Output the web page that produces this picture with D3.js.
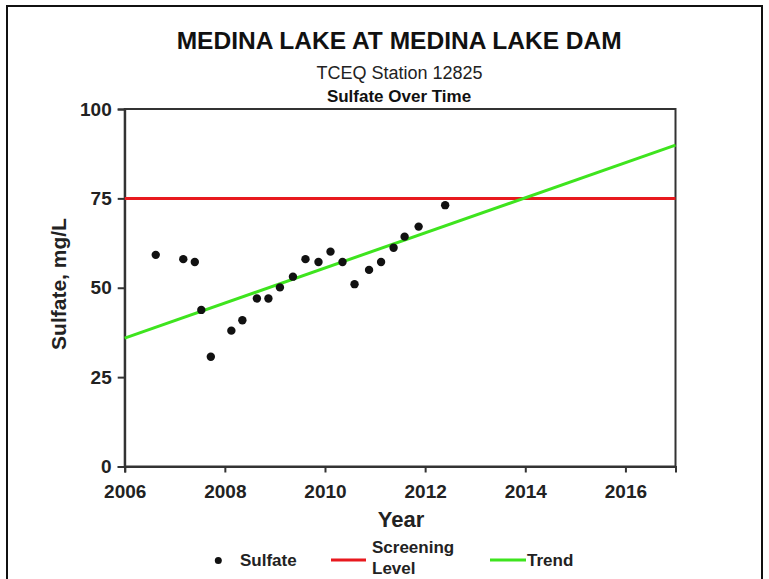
<!DOCTYPE html>
<html><head><meta charset="utf-8">
<script src="https://cdn.jsdelivr.net/npm/d3@7"></script>
<style>body{margin:0;background:#fff}svg{display:block;font-family:"Liberation Sans",Arial,sans-serif}</style>
</head><body>
<svg id="c" width="769" height="579"></svg>
<script>
const years = [2006.62,2007.17,2007.40,2007.53,2007.72,2008.13,2008.35,2008.64,2008.87,2009.10,2009.36,2009.61,2009.87,2010.11,2010.35,2010.59,2010.88,2011.12,2011.37,2011.59,2011.87,2012.40];
const sulfate = [59.2,58.0,57.2,43.8,30.7,38.0,40.9,47.0,47.0,50.1,53.1,58.0,57.2,60.1,57.2,51.0,55.0,57.2,61.2,64.3,67.1,73.1];
const screeningLevel = 75;
const trendYears = [2006,2017];
const trendValues = [35.9,89.9];
const xTicks = [2006,2008,2010,2012,2014,2016];
const yTicks = [0,25,50,75,100];

const svg = d3.select("#c");
svg.append("rect").attr("x",7).attr("y",6).attr("width",755).attr("height",590)
  .attr("fill","none").attr("stroke","#111").attr("stroke-width",2);

const L=124.7,R=675.5,T=109,B=466.5;
const x = d3.scaleLinear().domain([2006,2017]).range([L,R]);
const y = d3.scaleLinear().domain([0,100]).range([B,T]);

// titles
svg.append("text").attr("x",399.2).attr("y",49).attr("text-anchor","middle")
  .attr("font-size",24).attr("font-weight","bold").attr("fill","#111")
  .attr("textLength",445).attr("lengthAdjust","spacingAndGlyphs").text("MEDINA LAKE AT MEDINA LAKE DAM");
svg.append("text").attr("x",399.5).attr("y",79).attr("text-anchor","middle")
  .attr("font-size",18).attr("fill","#222").text("TCEQ Station 12825");
svg.append("text").attr("x",399).attr("y",102).attr("text-anchor","middle")
  .attr("font-size",17).attr("font-weight","bold").attr("fill","#111").text("Sulfate Over Time");

// frame of plot
svg.append("rect").attr("x",L).attr("y",T).attr("width",R-L).attr("height",B-T)
  .attr("fill","none").attr("stroke","#333").attr("stroke-width",2);

// axes
const yAxis = svg.append("g").attr("transform",`translate(${L},0)`)
  .call(d3.axisLeft(y).tickValues(yTicks).tickSize(7).tickPadding(6));
const xAxis = svg.append("g").attr("transform",`translate(0,${B})`)
  .call(d3.axisBottom(x).tickValues(xTicks).tickFormat(d3.format("d")).tickSize(6).tickPadding(12));
[yAxis,xAxis].forEach(g=>{
  g.select(".domain").attr("stroke","#333").attr("stroke-width",2);
  g.selectAll(".tick line").attr("stroke","#333").attr("stroke-width",2);
  g.selectAll(".tick text").attr("font-size",19).attr("font-weight","bold").attr("fill","#222")
   .attr("font-family","Liberation Sans, Arial, sans-serif");
});

// axis titles
svg.append("text").attr("transform",`translate(66,284) rotate(-90)`).attr("text-anchor","middle")
  .attr("font-size",21).attr("font-weight","bold").attr("fill","#222").text("Sulfate, mg/L");
svg.append("text").attr("x",401).attr("y",527).attr("text-anchor","middle")
  .attr("font-size",22).attr("font-weight","bold").attr("fill","#222").text("Year");

// screening level
svg.append("line").attr("x1",x(2006)).attr("x2",x(2017)).attr("y1",y(screeningLevel)).attr("y2",y(screeningLevel))
  .attr("stroke","#e8191e").attr("stroke-width",3);
// trend
svg.append("path").datum(trendYears.map((d,i)=>[d,trendValues[i]]))
  .attr("d",d3.line().x(d=>x(d[0])).y(d=>y(d[1])))
  .attr("stroke","#3ee41e").attr("stroke-width",3).attr("fill","none");
// points
svg.append("g").selectAll("circle").data(years.map((d,i)=>[d,sulfate[i]])).join("circle")
  .attr("cx",d=>x(d[0])).attr("cy",d=>y(d[1])).attr("r",4.2).attr("fill","#111");

// legend
const lg = svg.append("g");
lg.append("circle").attr("cx",218.3).attr("cy",560.5).attr("r",3.5).attr("fill","#111");
lg.append("text").attr("x",240).attr("y",566).attr("font-size",17).attr("font-weight","bold").attr("fill","#222").text("Sulfate");
lg.append("line").attr("x1",331).attr("x2",366).attr("y1",560).attr("y2",560).attr("stroke","#e8191e").attr("stroke-width",3);
lg.append("text").attr("x",372).attr("y",553).attr("font-size",17).attr("font-weight","bold").attr("fill","#222").text("Screening");
lg.append("text").attr("x",372).attr("y",574).attr("font-size",17).attr("font-weight","bold").attr("fill","#222").text("Level");
lg.append("line").attr("x1",490).attr("x2",526).attr("y1",560).attr("y2",560).attr("stroke","#3ee41e").attr("stroke-width",3);
lg.append("text").attr("x",527).attr("y",566).attr("font-size",17).attr("font-weight","bold").attr("fill","#222").text("Trend");
</script>
</body></html>
